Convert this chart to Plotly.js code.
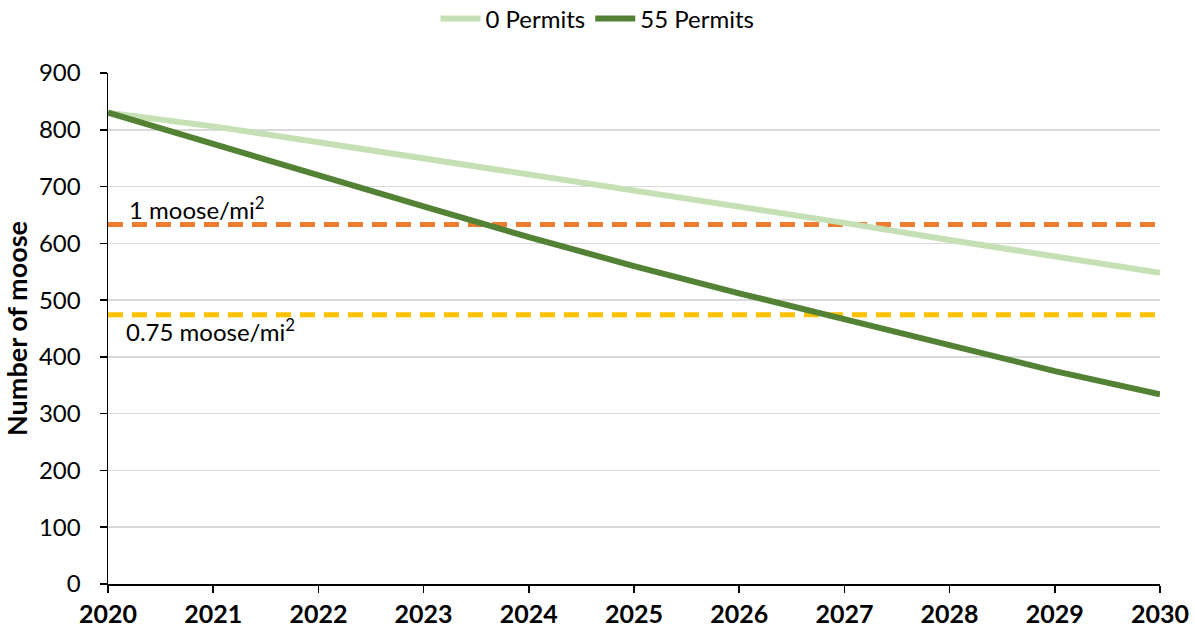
<!DOCTYPE html>
<html>
<head>
<meta charset="utf-8">
<script src="https://cdn.plot.ly/plotly-3.0.1.min.js"></script>
<style>html,body{margin:0;padding:0;background:#fff;}#chart{width:1195px;height:632px;}</style>
</head>
<body>
<div id="chart"></div>
<script>
var years = [2020, 2021, 2022, 2023, 2024, 2025, 2026, 2027, 2028, 2029, 2030];
var permits0 = [830, 806, 778, 750, 720, 692, 664, 636, 606, 577, 548];
var permits55 = [830, 775, 718, 665, 611, 560, 512, 467, 420, 375, 334];
var density1 = [633, 633];
var density075 = [474, 474];
var densityYears = [2020, 2030];
var seriesNames = ['0 Permits', '55 Permits'];
var labelDensity1 = '1 moose/mi<sup>2</sup>';
var labelDensity075 = '0.75 moose/mi<sup>2</sup>';

var font = 'Lato, "Noto Sans", sans-serif';

var traces = [
  {x: densityYears, y: density1, mode: 'lines', showlegend: false, hoverinfo: 'skip',
   line: {color: '#ED7D31', width: 5, dash: '15px,9px'}},
  {x: densityYears, y: density075, mode: 'lines', showlegend: false, hoverinfo: 'skip',
   line: {color: '#FFC000', width: 5, dash: '15px,9px'}},
  {x: years, y: permits0, mode: 'lines', name: seriesNames[0],
   line: {color: '#C5E0B4', width: 6}},
  {x: years, y: permits55, mode: 'lines', name: seriesNames[1],
   line: {color: '#548235', width: 6}}
];

var layout = {
  width: 1195, height: 632,
  margin: {l: 108, r: 35, t: 73, b: 48, pad: 0, autoexpand: false},
  paper_bgcolor: '#fff', plot_bgcolor: '#fff',
  font: {family: font, color: '#000', size: 19},
  showlegend: true,
  legend: {orientation: 'h', x: 0.5, xanchor: 'center', xref: 'container',
           y: 0.97, yanchor: 'middle', yref: 'container',
           font: {family: font, size: 24, color: '#000'}, traceorder: 'normal', itemwidth: 40},
  xaxis: {
    range: [2020, 2030], tickmode: 'array', tickvals: years, ticktext: years.map(String),
    showgrid: false, zeroline: false, showline: true, linecolor: '#000', linewidth: 1.5,
    ticks: 'outside', ticklen: 7, tickwidth: 1.5, tickcolor: '#000',
    tickfont: {family: font, size: 25, weight: 'bold', color: '#000'}
  },
  yaxis: {
    range: [0, 900], tickmode: 'linear', tick0: 0, dtick: 100,
    showgrid: true, gridcolor: '#d9d9d9', gridwidth: 1.5, zeroline: false,
    showline: true, linecolor: '#000', linewidth: 1.5,
    ticks: 'outside', ticklen: 7, tickwidth: 1.5, tickcolor: '#000',
    ticklabelstandoff: 14,
    tickfont: {family: font, size: 24, color: '#000'},
    title: {text: 'Number of moose', font: {family: font, size: 27, weight: 'bold', color: '#000'}, standoff: 8}
  },
  annotations: [
    {x: 2020.18, y: 663, xref: 'x', yref: 'y', text: labelDensity1, showarrow: false,
     xanchor: 'left', yanchor: 'middle', font: {family: font, size: 24, color: '#000'}},
    {x: 2020.15, y: 448, xref: 'x', yref: 'y', text: labelDensity075, showarrow: false,
     xanchor: 'left', yanchor: 'middle', font: {family: font, size: 24, color: '#000'}}
  ]
};

Plotly.newPlot('chart', traces, layout, {displayModeBar: false, staticPlot: true});
</script>
</body>
</html>
